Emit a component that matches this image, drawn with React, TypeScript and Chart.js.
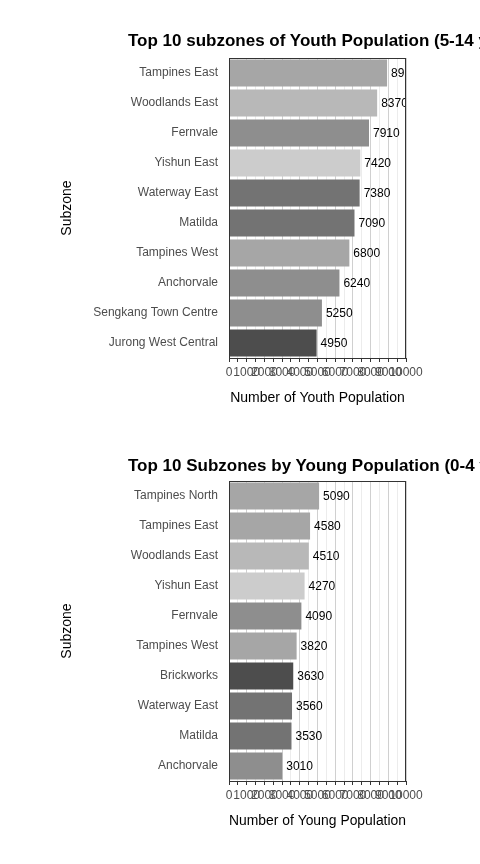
import React, { useEffect, useRef } from 'react';
import { Chart, registerables } from 'chart.js';

Chart.register(...registerables);

const youthSubzones = ['Tampines East', 'Woodlands East', 'Fernvale', 'Yishun East', 'Waterway East', 'Matilda', 'Tampines West', 'Anchorvale', 'Sengkang Town Centre', 'Jurong West Central'];
const youthValues = [8930, 8370, 7910, 7420, 7380, 7090, 6800, 6240, 5250, 4950];
const youthColors = ['#a6a6a6', '#b8b8b8', '#8e8e8e', '#cccccc', '#737373', '#737373', '#a6a6a6', '#8e8e8e', '#8e8e8e', '#4d4d4d'];

const youngSubzones = ['Tampines North', 'Tampines East', 'Woodlands East', 'Yishun East', 'Fernvale', 'Tampines West', 'Brickworks', 'Waterway East', 'Matilda', 'Anchorvale'];
const youngValues = [5090, 4580, 4510, 4270, 4090, 3820, 3630, 3560, 3530, 3010];
const youngColors = ['#a6a6a6', '#a6a6a6', '#b8b8b8', '#cccccc', '#8e8e8e', '#a6a6a6', '#4d4d4d', '#737373', '#737373', '#8e8e8e'];

const valueLabels = {
  id: 'valueLabels',
  afterDatasetsDraw(chart: any) {
    const ctx = chart.ctx;
    const area = chart.chartArea;
    ctx.save();
    ctx.beginPath();
    ctx.rect(area.left, area.top, area.right - area.left, area.bottom - area.top);
    ctx.clip();
    ctx.font = '12px Arial, "Liberation Sans"';
    ctx.fillStyle = '#000';
    ctx.textBaseline = 'middle';
    const meta = chart.getDatasetMeta(0);
    meta.data.forEach((bar: any, i: number) => {
      ctx.fillText(String(chart.data.datasets[0].data[i]), bar.x + 4, bar.y + 1);
    });
    ctx.restore();
  },
};

const border = {
  id: 'panelBorder',
  afterDraw(chart: any) {
    const { ctx, chartArea: a } = chart;
    ctx.save();
    ctx.strokeStyle = '#333';
    ctx.lineWidth = 1;
    ctx.strokeRect(a.left + 0.5, a.top + 0.5, a.right - a.left - 1, a.bottom - a.top);
    ctx.restore();
  },
};

interface BarProps {
  labels: string[];
  values: number[];
  colors: string[];
  xTitle: string;
  top: number;
  bottom: number;
}

const HBar: React.FC<BarProps> = ({ labels, values, colors, xTitle, top, bottom }) => {
  const ref = useRef<HTMLCanvasElement>(null);
  useEffect(() => {
    if (!ref.current) return;
    const chart = new Chart(ref.current, {
      type: 'bar',
      data: {
        labels,
        datasets: [{ data: values, backgroundColor: colors, categoryPercentage: 0.9, barPercentage: 1 }],
      },
      plugins: [valueLabels, border],
      options: {
        indexAxis: 'y',
        animation: false,
        responsive: false,
        layout: { padding: { left: 55, right: 74, top, bottom } },
        plugins: { legend: { display: false }, tooltip: { enabled: false } },
        scales: {
          x: {
            min: 0,
            max: 10000,
            afterFit: (s: any) => { s.height = 53; },
            ticks: {
              stepSize: 500,
              autoSkip: false,
              maxRotation: 0,
              color: '#4d4d4d',
              font: { size: 12, family: 'Arial, "Liberation Sans"' },
              callback: (v: any) => (Number(v) % 1000 === 0 ? String(v) : ''),
            },
            grid: {
              color: (c: any) => (c.tick && c.tick.value % 1000 === 0 ? '#d0d0d0' : '#ececec'),
              tickLength: 4,
              tickColor: '#333',
            },
            border: { display: false },
            title: { display: true, text: xTitle, color: '#000', font: { size: 14, family: 'Arial, "Liberation Sans"' } },
          },
          y: {
            afterFit: (s: any) => { s.width = 174; },
            ticks: { color: '#4d4d4d', font: { size: 12, family: 'Arial, "Liberation Sans"' } },
            grid: { display: false, drawTicks: true },
            border: { display: false },
            title: { display: true, text: 'Subzone', color: '#000', font: { size: 14, family: 'Arial, "Liberation Sans"' } },
          },
        },
      },
    });
    return () => chart.destroy();
  }, []);
  return <canvas ref={ref} width={480} height={top + 300 + 53 + bottom} />;
};

const titleStyle: React.CSSProperties = {
  position: 'absolute',
  left: 128,
  whiteSpace: 'nowrap',
  font: 'bold 17px Arial, "Liberation Sans", sans-serif',
  color: '#000',
};

export default function App() {
  return (
    <div style={{ position: 'fixed', left: 0, top: 0, width: 480, height: 864, overflow: 'hidden', background: '#fff' }}>
      <div style={{ position: 'absolute', top: 0, left: 0 }}>
        <HBar labels={youthSubzones} values={youthValues} colors={youthColors} xTitle="Number of Youth Population" top={58} bottom={15} />
      </div>
      <div style={{ ...titleStyle, top: 31 }}>Top 10 subzones of Youth Population (5-14 years)</div>
      <div style={{ position: 'absolute', top: 425, left: 0 }}>
        <HBar labels={youngSubzones} values={youngValues} colors={youngColors} xTitle="Number of Young Population" top={56} bottom={30} />
      </div>
      <div style={{ ...titleStyle, top: 456 }}>Top 10 Subzones by Young Population (0-4 years)</div>
    </div>
  );
}
